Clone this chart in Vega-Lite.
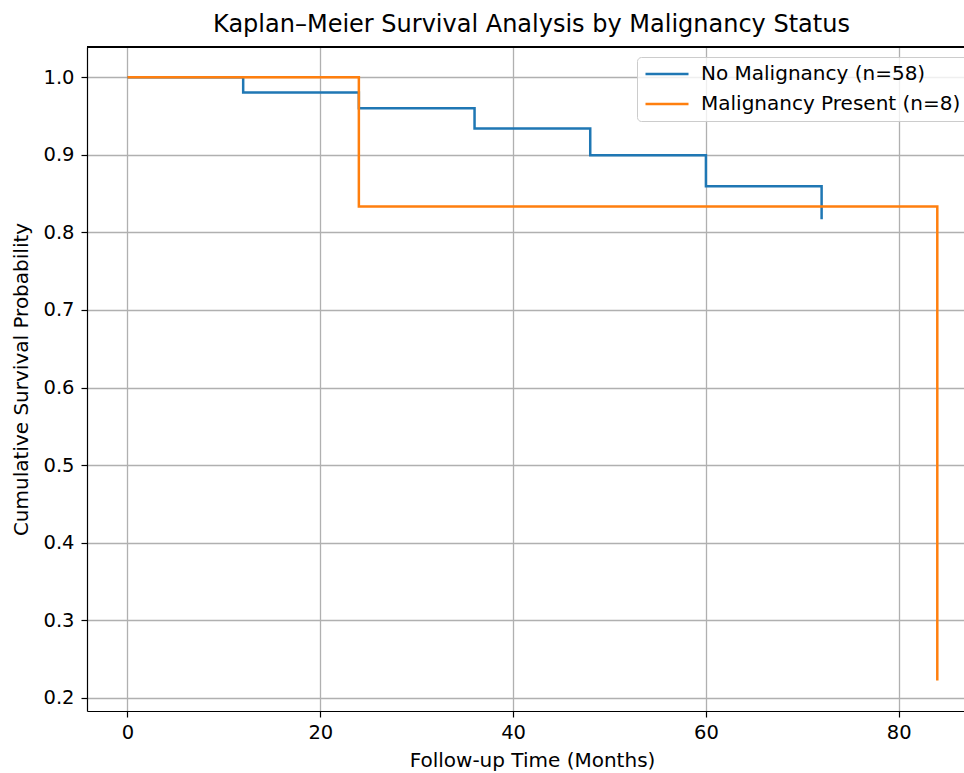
{
  "$schema": "https://vega.github.io/schema/vega-lite/v6.json",
  "autosize": "none",
  "width": 877,
  "height": 664,
  "padding": {"left": 87, "top": 47, "right": 0, "bottom": 62},
  "background": "white",
  "title": {"text": "Kaplan–Meier Survival Analysis by Malignancy Status", "font": "DejaVu Sans", "fontSize": 24, "fontWeight": "normal", "color": "black", "anchor": "middle", "offset": 9, "dx": 6, "frame": "group"},
  "config": {
    "view": {"stroke": null},
    "font": "DejaVu Sans"
  },
  "datasets": {
    "km": [
      {"group": "No Malignancy (n=58)", "time": 0, "survival": 1.0},
      {"group": "No Malignancy (n=58)", "time": 12, "survival": 0.9804},
      {"group": "No Malignancy (n=58)", "time": 24, "survival": 0.96},
      {"group": "No Malignancy (n=58)", "time": 36, "survival": 0.934},
      {"group": "No Malignancy (n=58)", "time": 48, "survival": 0.8996},
      {"group": "No Malignancy (n=58)", "time": 60, "survival": 0.8596},
      {"group": "No Malignancy (n=58)", "time": 72, "survival": 0.817},
      {"group": "Malignancy Present (n=8)", "time": 0, "survival": 1.0},
      {"group": "Malignancy Present (n=8)", "time": 24, "survival": 0.8333},
      {"group": "Malignancy Present (n=8)", "time": 84, "survival": 0.2222}
    ]
  },
  "data": {"name": "km"},
  "encoding": {
    "x": {"field": "time", "type": "quantitative", "scale": {"domain": [-4.2, 86.77], "nice": false, "zero": false},
      "axis": {"title": "Follow-up Time (Months)", "values": [0, 20, 40, 60, 80], "format": "d", "grid": true, "gridColor": "#b0b0b0", "gridWidth": 1.3, "domainColor": "black", "domainWidth": 1.2, "tickColor": "black", "tickSize": 6, "tickWidth": 1.2, "labelFontSize": 19.5, "labelColor": "black", "labelPadding": 6, "titleFontSize": 20, "titleFontWeight": "normal", "titleColor": "black", "titlePadding": 9, "titleX": 445, "labelFont": "DejaVu Sans", "titleFont": "DejaVu Sans"}},
    "y": {"field": "survival", "type": "quantitative", "scale": {"domain": [0.183, 1.039], "nice": false, "zero": false},
      "axis": {"title": "Cumulative Survival Probability", "values": [0.2, 0.3, 0.4, 0.5, 0.6, 0.7, 0.8, 0.9, 1.0], "format": ".1f", "grid": true, "gridColor": "#b0b0b0", "gridWidth": 1.3, "domainColor": "black", "domainWidth": 1.2, "tickColor": "black", "tickSize": 6, "tickWidth": 1.2, "labelFontSize": 19.5, "labelColor": "black", "labelPadding": 7, "titleFontSize": 20, "titleFontWeight": "normal", "titleColor": "black", "titlePadding": 11, "labelFont": "DejaVu Sans", "titleFont": "DejaVu Sans"}},
    "color": {"field": "group", "type": "nominal",
      "scale": {"domain": ["No Malignancy (n=58)", "Malignancy Present (n=8)"], "range": ["#1f77b4", "#ff7f0e"]},
      "legend": {"title": null, "orient": "none", "legendX": 550, "legendY": 10, "symbolType": "stroke", "symbolSize": 1849, "symbolStrokeWidth": 2.5, "labelFontSize": 20, "labelFont": "DejaVu Sans", "labelColor": "black", "labelOffset": 11, "rowPadding": 10, "padding": 7, "fillColor": "rgba(255,255,255,0.8)", "strokeColor": "#cccccc", "cornerRadius": 4, "clipHeight": 20, "labelLimit": 400}}
  },
  "layer": [
    {
      "mark": {"type": "rule", "color": "black", "strokeWidth": 1.2},
      "encoding": {"x": {"datum": -4.2}, "x2": {"datum": 86.77}, "y": {"datum": 1.039}, "color": {"value": "black"}}
    },
    {
      "transform": [{"filter": "datum.group === 'No Malignancy (n=58)'"}],
      "mark": {"type": "line", "interpolate": "step-after", "strokeWidth": 2.5}
    },
    {
      "transform": [{"filter": "datum.group === 'Malignancy Present (n=8)'"}],
      "mark": {"type": "line", "interpolate": "step-after", "strokeWidth": 2.5}
    }
  ]
}
